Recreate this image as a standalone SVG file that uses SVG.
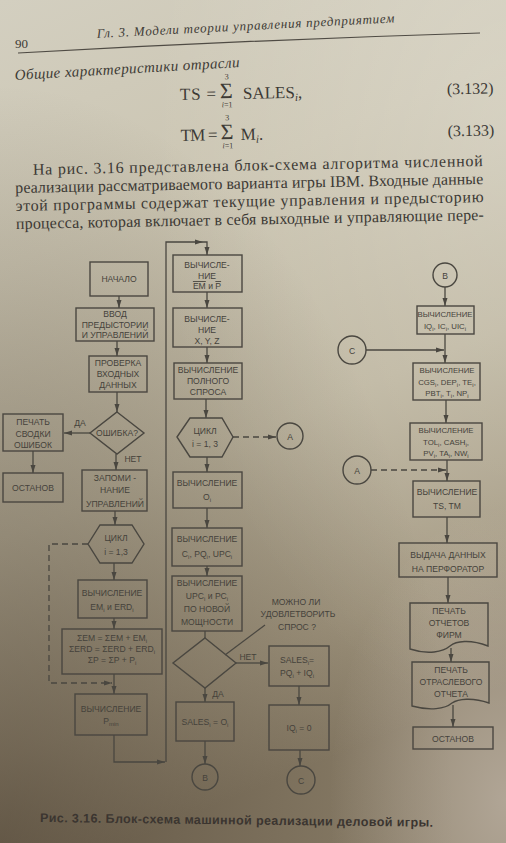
<svg xmlns="http://www.w3.org/2000/svg" width="506" height="843" viewBox="0 0 506 843">
<style>
  .ln { fill: none; stroke: #4a4740; stroke-width: 1.3; }
  .dash { stroke-dasharray: 6 4; }
  .nd { fill: none; stroke: #4a4740; stroke-width: 1.4; }
  .tx { font-family: "Liberation Sans", Arial, sans-serif; font-size: 8.6px; fill: #45423b; text-anchor: middle; }
  .sm { font-size: 7.8px; }
  .sb { font-size: 6px; baseline-shift: -2px; }
  .ov { text-decoration: overline; }
  .pg { font-family: "Liberation Serif", "Times New Roman", serif; fill: #3d3a35; }
  .it { font-style: italic; }
</style>
<defs>
  <linearGradient id="paper" x1="0" y1="0" x2="0.25" y2="1">
    <stop offset="0" stop-color="#d3cfc0"/>
    <stop offset="0.3" stop-color="#cbc5b2"/>
    <stop offset="0.6" stop-color="#bcb49e"/>
    <stop offset="0.85" stop-color="#a39881"/>
    <stop offset="1" stop-color="#8d816b"/>
  </linearGradient>
  <radialGradient id="shade" cx="0" cy="1" r="0.9">
    <stop offset="0" stop-color="#32261a" stop-opacity="0.5"/>
    <stop offset="1" stop-color="#32261a" stop-opacity="0"/>
  </radialGradient>
  <radialGradient id="glow" cx="1" cy="0.15" r="0.7">
    <stop offset="0" stop-color="#fffffa" stop-opacity="0.25"/>
    <stop offset="1" stop-color="#fffffa" stop-opacity="0"/>
  </radialGradient>
  <radialGradient id="corner" cx="1" cy="0.95" r="0.35">
    <stop offset="0" stop-color="#e6dcd6" stop-opacity="0.4"/>
    <stop offset="1" stop-color="#e6dcd6" stop-opacity="0"/>
  </radialGradient>
  <marker id="ar" viewBox="0 0 8 6" refX="8" refY="3" markerWidth="8" markerHeight="6" markerUnits="userSpaceOnUse" orient="auto">
    <path d="M0,0.5 L8,3 L0,5.5 z" fill="#4a4740"/>
  </marker>
</defs>

<!-- paper -->
<rect width="506" height="843" fill="url(#paper)"/>
<rect width="506" height="843" fill="url(#shade)"/>
<rect width="506" height="843" fill="url(#glow)"/>
<rect width="506" height="843" fill="url(#corner)"/>

<!-- running head -->
<g id="page-head">
  <text class="pg it" x="97" y="38" font-size="13" textLength="298" transform="rotate(-3 97 38)">Гл. 3. Модели теории управления предприятием</text>
  <text class="pg" x="15" y="48" font-size="13">90</text>
  <path d="M18,53 Q250,40 480,33" fill="none" stroke="#4f4b44" stroke-width="1.2"/>
  <text class="pg it" x="15" y="80" font-size="15" textLength="225" transform="rotate(-3.3 15 80)">Общие характеристики отрасли</text>
</g>

<!-- formulas -->
<g id="formulas" transform="rotate(-1 180 100)">
  <text class="pg" x="180" y="100" font-size="17" textLength="36">TS =</text>
  <text class="pg" x="220" y="99" font-size="22">Σ</text>
  <text class="pg" x="227" y="80" font-size="8" text-anchor="middle">3</text>
  <text class="pg" x="227" y="108" font-size="8" text-anchor="middle"><tspan class="it">i</tspan>=1</text>
  <text class="pg" x="243" y="100" font-size="17">SALES<tspan class="it" font-size="11" baseline-shift="-3">i</tspan>,</text>
  <text class="pg" x="447" y="99" font-size="16">(3.132)</text>

  <text class="pg" x="180" y="141" font-size="17" textLength="37">TM =</text>
  <text class="pg" x="220" y="140" font-size="22">Σ</text>
  <text class="pg" x="227" y="121" font-size="8" text-anchor="middle">3</text>
  <text class="pg" x="227" y="149" font-size="8" text-anchor="middle"><tspan class="it">i</tspan>=1</text>
  <text class="pg" x="240" y="141" font-size="17">M<tspan class="it" font-size="11" baseline-shift="-3">i</tspan>.</text>
  <text class="pg" x="447" y="141" font-size="16">(3.133)</text>
</g>

<!-- paragraph -->
<g id="paragraph" transform="rotate(-1.1 15 175)">
  <text class="pg" x="33" y="175" font-size="16" textLength="450">На рис. 3.16 представлена блок-схема алгоритма численной</text>
  <text class="pg" x="15" y="193" font-size="16" textLength="468">реализации рассматриваемого варианта игры IBM. Входные данные</text>
  <text class="pg" x="15" y="211" font-size="16" textLength="468">этой программы содержат текущие управления и предысторию</text>
  <text class="pg" x="15" y="229" font-size="16" textLength="468">процесса, которая включает в себя выходные и управляющие пере-</text>
</g>

<!-- connectors -->
<g id="connectors">
  <!-- left column -->
  <path class="ln" d="M119,296 V308" marker-end="url(#ar)"/>
  <path class="ln" d="M117,341 V356" marker-end="url(#ar)"/>
  <path class="ln" d="M117,392 V412" marker-end="url(#ar)"/>
  <path class="ln" d="M90,433 H64" marker-end="url(#ar)"/>
  <path class="ln" d="M33,451 V473" marker-end="url(#ar)"/>
  <path class="ln" d="M116,454 V470" marker-end="url(#ar)"/>
  <path class="ln" d="M115,511 V525" marker-end="url(#ar)"/>
  <path class="ln dash" d="M88,544 H49 V683 H112" marker-end="url(#ar)"/>
  <path class="ln" d="M114,563 V580" marker-end="url(#ar)"/>
  <path class="ln" d="M114,618 V629" marker-end="url(#ar)"/>
  <path class="ln" d="M114,674 V694" marker-end="url(#ar)"/>
  <path class="ln" d="M114,735 V762 H165" marker-end="url(#ar)"/>
  <path class="ln" d="M166,762 V242 H203" marker-end="url(#ar)"/>
  <path class="ln" d="M203,242 H207 V255" marker-end="url(#ar)"/>
  <!-- middle column -->
  <path class="ln" d="M207,292 V308" marker-end="url(#ar)"/>
  <path class="ln" d="M207,347 V363" marker-end="url(#ar)"/>
  <path class="ln" d="M206,399 V418" marker-end="url(#ar)"/>
  <path class="ln dash" d="M233,437 H276" marker-end="url(#ar)"/>
  <path class="ln" d="M207,457 V472" marker-end="url(#ar)"/>
  <path class="ln" d="M207,508 V528" marker-end="url(#ar)"/>
  <path class="ln" d="M207,566 V576" marker-end="url(#ar)"/>
  <path class="ln" d="M205,631 V638"/>
  <path class="ln" d="M236,663 H268" marker-end="url(#ar)"/>
  <path class="ln" d="M205,688 V702" marker-end="url(#ar)"/>
  <path class="ln" d="M205,741 V764" marker-end="url(#ar)"/>
  <path class="ln" d="M299,686 V705" marker-end="url(#ar)"/>
  <path class="ln" d="M300,750 V766" marker-end="url(#ar)"/>
  <path class="ln" d="M265,625 L225,655" stroke-width="1"/>
  <!-- right column -->
  <path class="ln" d="M445,287 V306" marker-end="url(#ar)"/>
  <path class="ln" d="M445,334 V363" marker-end="url(#ar)"/>
  <path class="ln" d="M366,350 H444" marker-end="url(#ar)"/>
  <path class="ln" d="M446,400 V423" marker-end="url(#ar)"/>
  <path class="ln" d="M447,460 V481" marker-end="url(#ar)"/>
  <path class="ln dash" d="M371,470 H446" marker-end="url(#ar)"/>
  <path class="ln" d="M447,517 V543" marker-end="url(#ar)"/>
  <path class="ln" d="M448,577 V603" marker-end="url(#ar)"/>
  <path class="ln" d="M451,648 V662" marker-end="url(#ar)"/>
  <path class="ln" d="M453,705 V727" marker-end="url(#ar)"/>
</g>

<!-- left column nodes -->
<g id="start">
  <rect class="nd" x="90" y="262" width="58" height="34"/>
  <text class="tx" x="119" y="282">НАЧАЛО</text>
</g>
<g id="input">
  <rect class="nd" x="76" y="308" width="78" height="33"/>
  <text class="tx" x="115" y="317">ВВОД</text>
  <text class="tx" x="115" y="327.5">ПРЕДЫСТОРИИ</text>
  <text class="tx" x="115" y="338">И УПРАВЛЕНИЙ</text>
</g>
<g id="check">
  <rect class="nd" x="89" y="356" width="58" height="36"/>
  <text class="tx" x="118" y="366">ПРОВЕРКА</text>
  <text class="tx" x="118" y="377">ВХОДНЫХ</text>
  <text class="tx" x="118" y="388">ДАННЫХ</text>
</g>
<g id="error">
  <polygon class="nd" points="117,412 144,433 117,454 90,433"/>
  <text class="tx" x="117" y="436">ОШИБКА?</text>
  <text class="tx" x="80" y="426">ДА</text>
  <text class="tx" x="133" y="462">НЕТ</text>
</g>
<g id="print-errors">
  <rect class="nd" x="3" y="414" width="60" height="37"/>
  <text class="tx" x="33" y="425">ПЕЧАТЬ</text>
  <text class="tx" x="33" y="437">СВОДКИ</text>
  <text class="tx" x="33" y="448">ОШИБОК</text>
</g>
<g id="stop-left">
  <rect class="nd" x="3" y="473" width="60" height="29"/>
  <text class="tx" x="33" y="491">ОСТАНОВ</text>
</g>
<g id="store">
  <rect class="nd" x="82" y="470" width="65" height="41"/>
  <text class="tx" x="115" y="481">ЗАПОМИ -</text>
  <text class="tx" x="115" y="493">НАНИЕ</text>
  <text class="tx" x="115" y="507">УПРАВЛЕНИЙ</text>
</g>
<g id="loop1">
  <polygon class="nd" points="88,544 100,525 132,525 144,544 132,563 100,563"/>
  <text class="tx" x="116" y="541">ЦИКЛ</text>
  <text class="tx" x="116" y="555">i = 1,3</text>
</g>
<g id="calc-em">
  <rect class="nd" x="78" y="580" width="69" height="38"/>
  <text class="tx" x="112" y="596">ВЫЧИСЛЕНИЕ</text>
  <text class="tx" x="112" y="610">EM<tspan class="sb">i</tspan>  и  ERD<tspan class="sb">i</tspan></text>
</g>
<g id="sums">
  <rect class="nd" x="62" y="629" width="100" height="45"/>
  <text class="tx" x="112" y="641">ΣEM = ΣEM + EM<tspan class="sb">i</tspan></text>
  <text class="tx" x="112" y="652">ΣERD = ΣERD + ERD<tspan class="sb">i</tspan></text>
  <text class="tx" x="112" y="663">ΣP = ΣP + P<tspan class="sb">i</tspan></text>
</g>
<g id="calc-pmin">
  <rect class="nd" x="75" y="694" width="72" height="41"/>
  <text class="tx" x="111" y="712">ВЫЧИСЛЕНИЕ</text>
  <text class="tx" x="111" y="724">P<tspan class="sb">min</tspan></text>
</g>

<!-- middle column nodes -->
<g id="calc-avg">
  <rect class="nd" x="173" y="255" width="69" height="37"/>
  <text class="tx" x="207" y="268">ВЫЧИСЛЕ-</text>
  <text class="tx" x="207" y="279">НИЕ</text>
  <text class="tx" x="207" y="289"><tspan class="ov">EM</tspan> и <tspan class="ov">P</tspan></text>
</g>
<g id="calc-xyz">
  <rect class="nd" x="173" y="308" width="69" height="39"/>
  <text class="tx" x="207" y="322">ВЫЧИСЛЕ-</text>
  <text class="tx" x="207" y="333">НИЕ</text>
  <text class="tx" x="207" y="344">X, Y, Z</text>
</g>
<g id="calc-demand">
  <rect class="nd" x="174" y="363" width="68" height="36"/>
  <text class="tx" x="208" y="373">ВЫЧИСЛЕНИЕ</text>
  <text class="tx" x="208" y="384">ПОЛНОГО</text>
  <text class="tx" x="208" y="395">СПРОСА</text>
</g>
<g id="loop2">
  <polygon class="nd" points="177,437 190,418 222,418 233,437 222,457 190,457"/>
  <text class="tx" x="205" y="434">ЦИКЛ</text>
  <text class="tx" x="205" y="447">i = 1, 3</text>
</g>
<g id="conn-a1">
  <circle class="nd" cx="290" cy="436" r="13"/>
  <text class="tx" x="290" y="440">A</text>
</g>
<g id="calc-o">
  <rect class="nd" x="173" y="472" width="69" height="36"/>
  <text class="tx" x="207" y="486">ВЫЧИСЛЕНИЕ</text>
  <text class="tx" x="207" y="500">O<tspan class="sb">i</tspan></text>
</g>
<g id="calc-c">
  <rect class="nd" x="172" y="528" width="70" height="38"/>
  <text class="tx" x="207" y="542">ВЫЧИСЛЕНИЕ</text>
  <text class="tx" x="207" y="557">C<tspan class="sb">i</tspan>, PQ<tspan class="sb">i</tspan>, UPC<tspan class="sb">i</tspan></text>
</g>
<g id="calc-upc">
  <rect class="nd" x="172" y="576" width="70" height="55"/>
  <text class="tx" x="207" y="586">ВЫЧИСЛЕНИЕ</text>
  <text class="tx" x="207" y="599">UPC<tspan class="sb">i</tspan> и PC<tspan class="sb">i</tspan></text>
  <text class="tx" x="207" y="612">ПО НОВОЙ</text>
  <text class="tx" x="207" y="625">МОЩНОСТИ</text>
</g>
<g id="demand-check">
  <polygon class="nd" points="205,638 236,663 205,688 173,663"/>
  <text class="tx" x="296" y="605">МОЖНО ЛИ</text>
  <text class="tx" x="298" y="617">УДОВЛЕТВОРИТЬ</text>
  <text class="tx" x="297" y="630">СПРОС   ?</text>
  <text class="tx" x="248" y="660">НЕТ</text>
  <text class="tx" x="218" y="697">ДА</text>
</g>
<g id="sales-pq">
  <rect class="nd" x="269" y="646" width="60" height="40"/>
  <text class="tx" x="297" y="663">SALES<tspan class="sb">i</tspan>=</text>
  <text class="tx" x="297" y="676">PQ<tspan class="sb">i</tspan> + IQ<tspan class="sb">i</tspan></text>
</g>
<g id="sales-o">
  <rect class="nd" x="176" y="702" width="58" height="39"/>
  <text class="tx" x="205" y="725">SALES<tspan class="sb">i</tspan> = O<tspan class="sb">i</tspan></text>
</g>
<g id="iq-zero">
  <rect class="nd" x="269" y="705" width="60" height="45"/>
  <text class="tx" x="299" y="731">IQ<tspan class="sb">i</tspan> = 0</text>
</g>
<g id="conn-b1">
  <circle class="nd" cx="205" cy="777" r="13"/>
  <text class="tx" x="205" y="781">B</text>
</g>
<g id="conn-c1">
  <circle class="nd" cx="301" cy="780" r="14"/>
  <text class="tx" x="301" y="784">C</text>
</g>

<!-- right column nodes -->
<g id="conn-b2">
  <circle class="nd" cx="445" cy="275" r="12"/>
  <text class="tx" x="445" y="279">B</text>
</g>
<g id="calc-iq">
  <rect class="nd" x="417" y="306" width="57" height="28"/>
  <text class="tx sm" x="445" y="317">ВЫЧИСЛЕНИЕ</text>
  <text class="tx sm" x="445" y="329">IQ<tspan class="sb">i</tspan>, IC<tspan class="sb">i</tspan>, UIC<tspan class="sb">i</tspan></text>
</g>
<g id="conn-c2">
  <circle class="nd" cx="352" cy="350" r="14"/>
  <text class="tx" x="352" y="354">C</text>
</g>
<g id="calc-cgs">
  <rect class="nd" x="413" y="363" width="67" height="37"/>
  <text class="tx sm" x="447" y="373">ВЫЧИСЛЕНИЕ</text>
  <text class="tx sm" x="447" y="385">CGS<tspan class="sb">i</tspan>, DEP<tspan class="sb">i</tspan>, TE<tspan class="sb">i</tspan>,</text>
  <text class="tx sm" x="447" y="396">PBT<tspan class="sb">i</tspan>, T<tspan class="sb">i</tspan>, NP<tspan class="sb">i</tspan></text>
</g>
<g id="calc-tol">
  <rect class="nd" x="410" y="423" width="72" height="37"/>
  <text class="tx sm" x="446" y="433">ВЫЧИСЛЕНИЕ</text>
  <text class="tx sm" x="446" y="445">TOL<tspan class="sb">i</tspan>, CASH<tspan class="sb">i</tspan>,</text>
  <text class="tx sm" x="446" y="456">PV<tspan class="sb">i</tspan>, TA<tspan class="sb">i</tspan>, NW<tspan class="sb">i</tspan></text>
</g>
<g id="conn-a2">
  <circle class="nd" cx="357" cy="470" r="14"/>
  <text class="tx" x="357" y="474">A</text>
</g>
<g id="calc-ts">
  <rect class="nd" x="413" y="481" width="67" height="36"/>
  <text class="tx" x="447" y="495">ВЫЧИСЛЕНИЕ</text>
  <text class="tx" x="447" y="509">TS, TM</text>
</g>
<g id="punch">
  <rect class="nd" x="399" y="543" width="98" height="34"/>
  <text class="tx" x="448" y="558">ВЫДАЧА ДАННЫХ</text>
  <text class="tx" x="448" y="572">НА ПЕРФОРАТОР</text>
</g>
<g id="firm-reports">
  <path class="nd" d="M410,603 H488 V646 C470,639 456,641 450,646 C443,652 428,655 410,649 Z"/>
  <text class="tx" x="449" y="614">ПЕЧАТЬ</text>
  <text class="tx" x="449" y="626">ОТЧЕТОВ</text>
  <text class="tx" x="449" y="638">ФИРМ</text>
</g>
<g id="industry-report">
  <path class="nd" d="M412,662 H489 V703 C472,697 458,699 452,703 C445,709 430,711 412,706 Z"/>
  <text class="tx" x="451" y="673">ПЕЧАТЬ</text>
  <text class="tx" x="451" y="685">ОТРАСЛЕВОГО</text>
  <text class="tx" x="451" y="697">ОТЧЕТА</text>
</g>
<g id="stop-right">
  <rect class="nd" x="413" y="727" width="80" height="22"/>
  <text class="tx" x="453" y="742">ОСТАНОВ</text>
</g>

<!-- caption -->
<text id="caption" x="40" y="822" font-family="Liberation Sans, Arial, sans-serif" font-size="12.5" font-weight="bold" fill="#3b3530" textLength="393" transform="rotate(0.7 40 822)">Рис. 3.16. Блок-схема машинной реализации деловой игры.</text>
</svg>
